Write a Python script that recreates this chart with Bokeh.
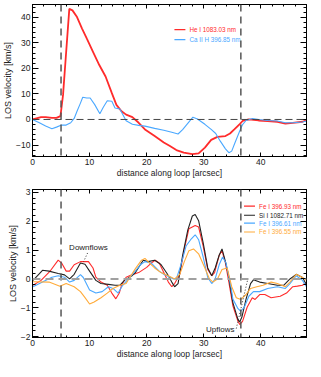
from bokeh.plotting import figure
from bokeh.models import Range1d, LinearAxis, SingleIntervalTicker, Span, CustomLabelingPolicy
from bokeh.core.properties import value
from bokeh.layouts import column
from bokeh.embed import file_html
from bokeh.resources import INLINE

FONT = "Liberation Sans"

# ---------------- data: top panel ----------------
he_x = [0.0, 1.5, 2.3, 3.4, 4.2, 4.9, 5.35, 5.9, 6.45, 7.0, 7.8, 8.7, 9.5, 10.6, 11.7,
        12.8, 13.9, 14.7, 15.6, 16.4, 17.5, 18.6, 19.7, 21.4, 23.0, 24.0, 25.2, 26.5, 28.0, 29.1,
        30.2, 31.3, 32.4, 33.8, 34.6, 35.4, 36.3, 36.8, 37.9, 39.6, 41.2, 42.9, 44.3, 45.6, 47.3, 48.0]
he_v = [0.0, 0.9, 0.9, 0.6, 0.6, 1.3, 9.6, 26.5, 43.3, 42.7, 40.1, 35.5, 31.7, 26.5, 21.3,
        16.8, 10.3, 5.7, 3.2, 1.9, 0.9, -1.3, -3.9, -6.5, -9.0, -10.3, -12.0, -13.0, -13.6, -13.3,
        -11.0, -8.0, -6.8, -6.5, -5.5, -3.8, -1.8, -0.6, 0.0, -0.4, -0.6, -0.9, -1.6, -1.3, -0.9, -0.2]

ca_x = [0.0, 1.2, 2.3, 3.4, 4.2, 5.1, 5.9, 6.7, 7.3, 7.8, 8.4, 8.8, 9.5, 10.1, 10.9,
        11.8, 12.4, 13.1, 13.9, 14.45, 15.3, 16.4, 17.5, 18.6, 19.7, 21.4, 23.0, 24.4, 25.5, 26.3,
        27.2, 28.1, 28.9, 30.2, 31.3, 32.1, 32.9, 33.8, 34.4, 34.9, 35.4, 36.3, 36.8, 37.4, 38.5,
        39.6, 41.2, 42.9, 44.3, 45.6, 47.3, 48.0]
ca_v = [0.0, -1.3, -2.6, -3.6, -3.0, -2.2, -2.2, -1.3, 0.4, 3.2, 6.4, 8.7, 8.4, 8.4, 5.8,
        2.2, 4.8, 7.3, 7.1, 4.5, 4.1, -0.5, -1.9, -2.3, -2.6, -3.5, -4.2, -5.0, -5.7, -4.0,
        -1.5, 0.9, 0.2, -1.9, -3.9, -5.5, -8.5, -11.5, -13.0, -12.4, -9.5, -4.5, -2.0, -0.4, 0.4,
        0.0, -0.4, -0.6, -1.3, -1.3, -1.0, -0.6]

# ---------------- data: bottom panel ----------------
fe93_x = [0.1, 1.5, 3.0, 4.5, 5.1, 5.9, 6.5, 7.3, 8.4, 9.8, 10.6, 11.1, 12.0, 13.1, 13.9,
          14.6, 15.2, 15.6, 16.4, 17.5, 18.6, 20.0, 20.8, 21.5, 22.2, 23.0, 23.8, 24.4, 24.9, 25.8,
          26.6, 27.4, 28.5, 29.1, 29.9, 30.7, 31.4, 31.9, 32.7, 33.2, 33.8, 34.3, 35.1, 36.0, 36.3,
          36.8, 37.6, 38.5, 39.0, 39.8, 40.7, 41.8, 43.4, 44.5, 45.6, 46.4, 47.3, 48.0]
fe93_v = [-0.22, -0.05, 0.25, 0.65, 0.55, 0.27, 0.27, 0.49, 0.6, 0.6, 0.38, 0.06, -0.11, -0.22, -0.49,
          -0.69, -0.49, -0.22, 0.06, 0.15, 0.22, 0.4, 0.55, 0.65, 0.55, 0.22, -0.11, -0.27, -0.16, 0.16,
          1.04, 1.74, 1.85, 1.8, 1.14, 0.33, 0.11, 0.22, 0.82, 0.98, 0.55, 0.0, -0.93, -1.47, -1.58,
          -1.47, -0.98, -0.65, -0.71, -0.54, -0.54, -0.65, -0.6, -0.49, -0.27, -0.25, -0.22, -0.11]

si_x = [0.1, 1.75, 2.9, 4.5, 5.6, 6.5, 7.3, 8.4, 9.2, 10.0, 11.1, 12.0, 13.3, 14.45, 15.3,
        16.1, 17.5, 18.0, 19.4, 20.2, 21.4, 22.5, 23.6, 24.4, 24.9, 25.5, 26.3, 27.2, 28.0, 28.5,
        29.1, 29.9, 30.7, 31.4, 32.0, 32.7, 33.2, 33.8, 34.3, 35.1, 36.0, 36.3, 36.7, 37.4, 38.2,
        38.7, 39.8, 41.2, 42.9, 44.0, 45.1, 46.2, 47.3, 48.0]
si_v = [-0.05, 0.3, 0.27, 0.19, 0.14, 0.0, 0.16, 0.55, 0.51, 0.27, -0.05, -0.16, -0.19, -0.22, -0.22,
        -0.05, 0.12, 0.22, 0.65, 0.6, 0.65, 0.5, 0.18, -0.11, -0.27, -0.16, 0.82, 1.69, 2.18, 2.23,
        2.02, 1.25, 0.38, 0.11, 0.38, 0.82, 1.04, 0.6, 0.16, -0.82, -1.41, -1.49, -1.31, -0.71, -0.16,
        -0.03, -0.11, -0.16, -0.22, -0.22, 0.0, 0.16, 0.05, -0.2]

fe61_x = [0.1, 1.75, 3.4, 4.5, 5.6, 6.5, 7.3, 8.4, 8.9, 10.0, 11.1, 12.2, 13.3, 14.1, 15.0,
          15.8, 17.5, 18.0, 18.9, 19.7, 20.8, 22.2, 23.0, 24.7, 25.2, 26.0, 26.9, 27.7, 28.5, 29.1,
          29.9, 30.7, 31.4, 32.0, 32.7, 33.3, 33.9, 34.8, 35.1, 36.0, 36.5, 37.1, 37.9, 38.7, 39.8,
          41.2, 42.9, 44.3, 45.1, 46.2, 47.3, 48.0]
fe61_v = [-0.27, -0.11, 0.06, 0.11, 0.06, -0.11, -0.05, 0.15, 0.05, -0.38, -0.49, -0.44, -0.27, -0.33, -0.49,
          -0.22, 0.16, 0.27, 0.49, 0.6, 0.55, 0.27, 0.16, 0.0, 0.0, 0.49, 1.14, 1.36, 1.53, 1.36,
          0.76, 0.05, -0.16, 0.0, 0.49, 0.76, 0.55, -0.3, -0.7, -1.03, -1.12, -0.98, -0.6, -0.44, -0.44,
          -0.33, -0.27, -0.33, -0.16, 0.11, -0.05, -0.27]

fe55_x = [0.1, 2.9, 4.8, 5.9, 7.3, 8.4, 9.2, 10.0, 10.8, 12.0, 13.1, 14.1, 15.3, 16.4, 17.2,
          18.0, 19.1, 19.7, 20.5, 21.4, 22.5, 23.8, 24.9, 25.8, 26.6, 27.4, 28.2, 29.1, 30.2, 31.0,
          31.6, 32.4, 33.2, 34.1, 34.9, 35.7, 36.5, 37.4, 38.2, 39.3, 40.4, 41.8, 42.9, 44.3, 45.1,
          46.2, 47.3, 48.0]
fe55_v = [-0.1, -0.11, -0.25, -0.16, -0.27, -0.44, -0.65, -0.87, -0.8, -0.65, -0.49, -0.33, -0.22, -0.16, 0.1,
          0.35, 0.65, 0.71, 0.55, 0.38, 0.22, 0.11, 0.0, 0.16, 0.6, 0.98, 1.04, 0.87, 0.38, 0.0,
          -0.11, 0.0, 0.33, 0.38, -0.27, -0.65, -0.71, -0.54, -0.33, -0.27, -0.22, -0.11, -0.16, -0.27, -0.11,
          0.16, 0.05, -0.05]

footpoints = [5.0, 36.5]
x_label = "distance along loop [arcsec]"
y_label = "LOS velocity [km/s]"
top_names = ["He I 1083.03 nm", "Ca II H 396.85 nm"]
bot_names = ["Fe I 396.93 nm", "Si I 1082.71 nm", "Fe I 396.61 nm", "Fe I 396.55 nm"]

# annotations (data coordinates)
note_text = ["Downflows", "Upflows"]
note_x = [9.8, 32.9]
note_y = [1.1, -1.74]
ptr_x0 = [9.65, 35.7]
ptr_y0 = [0.9, -1.72]
ptr_x1 = [8.95, 37.7]
ptr_y1 = [0.6, -0.02]

# legend layout (fractions of the plotting area)
TOP_LEG_X = 0.518          # left end of sample line, fraction of x range
BOT_LEG_X = 0.772
LEG_LINE = 0.040           # sample line length, fraction of x range
LEG_GAP = 0.015
TOP_LEG_Y = [0.165, 0.231]  # fractions from the top
BOT_LEG_Y = [0.112, 0.174, 0.227, 0.287]

RED = "#ff2b2b"
BLUE = "#4aa8ff"
ORANGE = "#ffab3a"
BLACK = "#222222"

W = 311
X0, X1 = 0, 48


def make_fig(height, y0, y1, yint, border_top, border_bottom):
    p = figure(width=W, height=height,
               x_range=Range1d(X0, X1), y_range=Range1d(y0, y1),
               output_backend="svg", toolbar_location=None,
               min_border_left=28, min_border_right=2,
               min_border_top=border_top, min_border_bottom=border_bottom)
    p.grid.visible = False
    p.outline_line_color = "black"
    p.background_fill_color = "white"
    p.border_fill_color = "white"
    p.xaxis.ticker = SingleIntervalTicker(interval=10, num_minor_ticks=5)
    p.yaxis.ticker = SingleIntervalTicker(interval=yint, num_minor_ticks=5)
    top = LinearAxis(ticker=SingleIntervalTicker(interval=10, num_minor_ticks=5))
    right = LinearAxis(ticker=SingleIntervalTicker(interval=yint, num_minor_ticks=5))
    for ax in (top, right):
        ax.major_label_policy = CustomLabelingPolicy(code="return new Set()")
        ax.major_label_text_font_size = "1px"
        ax.major_label_standoff = 0
    p.add_layout(top, "above")
    p.add_layout(right, "right")
    for ax in p.xaxis:
        ax.major_tick_in = 4
        ax.major_tick_out = 0
        ax.minor_tick_in = 2
        ax.minor_tick_out = 0
    for ax in p.yaxis:
        ax.major_tick_in = 6
        ax.major_tick_out = 0
        ax.minor_tick_in = 3
        ax.minor_tick_out = 0
    for ax in list(p.xaxis) + list(p.yaxis):
        ax.axis_line_color = "black"
        ax.major_tick_line_color = "black"
        ax.minor_tick_line_color = "black"
        ax.major_label_text_font = FONT
        ax.major_label_text_color = "#222222"
        ax.axis_label_text_font = FONT
        ax.axis_label_text_font_style = "normal"
        ax.axis_label_text_color = "#222222"
    p.below[0].axis_label = x_label
    p.below[0].major_label_text_font_size = "8.5px"
    p.below[0].major_label_standoff = 2
    p.below[0].axis_label_text_font_size = "8.5px"
    p.below[0].axis_label_standoff = 0
    p.left[0].axis_label = y_label
    p.left[0].major_label_text_font_size = "8.5px"
    p.left[0].major_label_standoff = 2
    p.left[0].axis_label_text_font_size = "9px"
    p.left[0].axis_label_standoff = 0
    for fx in footpoints:
        p.add_layout(Span(location=fx, dimension="height", line_color="#555555",
                          line_width=1.5, line_dash="7 5"))
    return p


def add_key(p, names, colors, fx, fys, y0, y1):
    span_x = X1 - X0
    xa = X0 + fx * span_x
    xb = xa + LEG_LINE * span_x
    xt = xb + LEG_GAP * span_x
    ys = [y1 - f * (y1 - y0) for f in fys]
    for name, col, yy in zip(names, colors, ys):
        p.segment([xa], [yy], [xb], [yy], line_color=col, line_width=1.2)
        p.text([xt], [yy], text=[name], text_align="left", text_baseline="middle",
               text_font=value(FONT), text_font_size="6.3px", text_color=col)


# ---------------- top ----------------
TY0, TY1 = -14.5, 45
p1 = make_fig(180, TY0, TY1, 10, 3, 23)
p1.add_layout(Span(location=0, dimension="width", line_color="#444444",
                   line_width=1, line_dash="7 4"))
p1.line(he_x, he_v, line_color=RED, line_width=1.8)
p1.line(ca_x, ca_v, line_color=BLUE, line_width=1.1)
add_key(p1, top_names, [RED, BLUE], TOP_LEG_X, TOP_LEG_Y, TY0, TY1)

# ---------------- bottom ----------------
BY0, BY1 = -2.03, 3.1
p2 = make_fig(181, BY0, BY1, 1, 9, 23)
p2.add_layout(Span(location=0, dimension="width", line_color="#a0a0a0",
                   line_width=2, line_dash="8 5"))
p2.line(fe93_x, fe93_v, line_color=RED, line_width=1.1)
p2.line(si_x, si_v, line_color=BLACK, line_width=1.1)
p2.line(fe61_x, fe61_v, line_color=BLUE, line_width=1.1)
p2.line(fe55_x, fe55_v, line_color=ORANGE, line_width=1.1)
add_key(p2, bot_names, [RED, BLACK, BLUE, ORANGE], BOT_LEG_X, BOT_LEG_Y, BY0, BY1)

p2.text(x=note_x, y=note_y, text=note_text, text_align="center", text_baseline="middle",
        text_font=value(FONT), text_font_size="8px", text_color="#222222")
p2.segment(ptr_x0, ptr_y0, ptr_x1, ptr_y1, line_color="#333333", line_width=1, line_dash="1 2")

layout = column(p1, p2, spacing=0)
open("out.html", "w").write(file_html(layout, INLINE))
